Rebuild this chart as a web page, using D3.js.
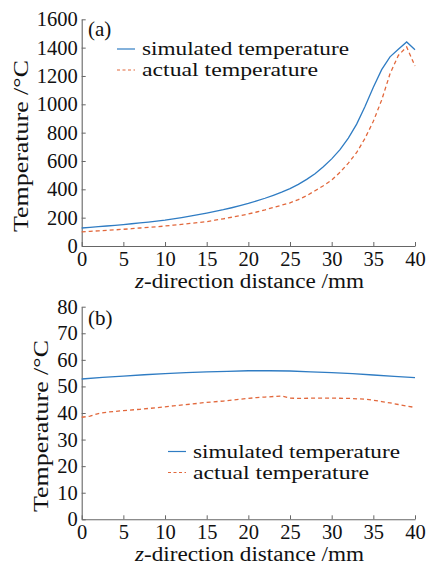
<!DOCTYPE html>
<html>
<head>
<meta charset="utf-8">
<script src="https://cdn.jsdelivr.net/npm/d3@7"></script>
<style>
  html, body { margin: 0; padding: 0; background: #fff; }
  svg { display: block; }
</style>
</head>
<body>
<div id="chart"></div>
<script>
// z-direction positions (mm)
const zA = d3.range(0, 41, 1);
// Panel (a): temperature along z (°C)
const simA = [127, 132, 137, 141, 146, 151, 157, 163, 169, 176, 183, 192, 201, 211, 221, 232,
  244, 256, 270, 285, 300, 318, 337, 358, 380, 405, 435, 470, 510, 560, 615, 680, 762, 860,
  985, 1120, 1245, 1335, 1388, 1440, 1385];
const actA = [100, 103, 107, 110, 114, 118, 122, 127, 131, 136, 141, 147, 153, 159, 165, 172,
  182, 192, 203, 214, 226, 240, 255, 272, 288, 305, 328, 355, 390, 425, 465, 520, 585, 660,
  760, 880, 1030, 1215, 1345, 1405, 1270];

// Panel (b): temperature along z (°C)
const zSimB = [0, 2.5, 5, 7.5, 10, 12.5, 15, 17.5, 20, 22.5, 25, 27.5, 30, 32.5, 35, 37.5, 40];
const simB = [52.8, 53.4, 53.9, 54.4, 54.8, 55.2, 55.5, 55.7, 55.9, 55.9, 55.8, 55.5, 55.2,
  54.8, 54.3, 53.8, 53.3];
const zActB = [0, 1, 2, 3, 5, 7, 9, 11, 13, 15, 17, 19, 21, 22, 23, 24, 25, 26, 28, 30, 32,
  34, 35, 36, 37, 38, 39, 40];
const actB = [38.4, 38.8, 39.8, 40.3, 40.9, 41.4, 42.0, 42.7, 43.3, 44.0, 44.5, 45.2, 45.8,
  46.0, 46.2, 46.4, 45.6, 45.5, 45.6, 45.6, 45.5, 45.2, 44.8, 44.3, 43.8, 43.2, 42.6, 42.1];

const xTicks = [0, 5, 10, 15, 20, 25, 30, 35, 40];
const yTicksA = [0, 200, 400, 600, 800, 1000, 1200, 1400, 1600];
const yTicksB = [0, 10, 20, 30, 40, 50, 60, 70, 80];
const legendLabels = ["simulated temperature", "actual temperature"];
const legendWidths = [207, 176];
const panelTags = ["(a)", "(b)"];
const xTitle = "-direction distance /mm";
const yTitle = "Temperature /°C";

const W = 437, H = 566;
const BLUE = "#2f7cc3", RED = "#e2683c", SPINE = "#666";
const FONT = "'Liberation Serif', 'Times New Roman', serif";
const ROW = 21;

const svg = d3.select("#chart").append("svg").attr("width", W).attr("height", H);

function label(sel, size) {
  return sel.style("font-family", FONT).style("font-size", (size || 20) + "px").attr("fill", "#111");
}

function panel(cfg) {
  const x = d3.scaleLinear().domain([0, 40]).range([81.7, 415]);
  const y = d3.scaleLinear().domain([0, cfg.yMax]).range([cfg.y0, cfg.y1]);
  const g = svg.append("g");

  const ax = g.append("g").attr("transform", `translate(0,${cfg.y0})`)
    .call(d3.axisBottom(x).tickValues(xTicks).tickFormat(d3.format("d"))
      .tickSizeInner(-4).tickSizeOuter(0).tickPadding(5));
  const ay = g.append("g").attr("transform", `translate(${x(0)},0)`)
    .call(d3.axisLeft(y).tickValues(cfg.yTicks).tickFormat(d3.format("d"))
      .tickSizeInner(-4).tickSizeOuter(0).tickPadding(4));
  [ax, ay].forEach(a => {
    a.attr("font-family", null).attr("font-size", null);
    a.selectAll("path.domain").attr("stroke", SPINE).attr("stroke-width", 1.1);
    a.selectAll(".tick line").attr("stroke", SPINE).attr("stroke-width", 1);
    label(a.selectAll(".tick text"), 20.5);
  });

  const line = d3.line().x(d => x(d[0])).y(d => y(d[1]));
  g.append("path").datum(d3.zip(cfg.zs, cfg.sim))
    .attr("d", line).attr("fill", "none").attr("stroke", BLUE).attr("stroke-width", 1.3);
  g.append("path").datum(d3.zip(cfg.za, cfg.act))
    .attr("d", line).attr("fill", "none").attr("stroke", RED).attr("stroke-width", 1.3)
    .attr("stroke-dasharray", "4,3");

  // panel tag
  label(g.append("text").attr("x", 88).attr("y", cfg.tagY), 21).text(cfg.tag);

  // axis titles
  const xt = label(g.append("text").attr("x", 135).attr("y", cfg.xTitleY), 20)
    .attr("textLength", 229).attr("lengthAdjust", "spacingAndGlyphs");
  xt.append("tspan").attr("font-style", "italic").text("z");
  xt.append("tspan").text(xTitle);

  label(g.append("text")
    .attr("transform", `translate(${cfg.yTitleX},${cfg.yTitleY}) rotate(-90)`)
    .attr("text-anchor", "middle"), 21)
    .attr("textLength", 172).attr("lengthAdjust", "spacingAndGlyphs")
    .text(yTitle);

  // legend
  const lg = g.append("g");
  legendLabels.forEach((lab, i) => {
    const ly = cfg.legY + i * ROW;
    lg.append("line").attr("x1", cfg.legX).attr("x2", cfg.legX + 18)
      .attr("y1", ly).attr("y2", ly)
      .attr("stroke", i === 0 ? BLUE : RED).attr("stroke-width", 1.2)
      .attr("stroke-dasharray", i === 0 ? null : "3,2.5");
    label(lg.append("text").attr("x", cfg.legX + 25).attr("y", ly + 6), 18.5)
      .attr("textLength", legendWidths[i]).attr("lengthAdjust", "spacingAndGlyphs")
      .text(lab);
  });
}

panel({
  yMax: 1600, y0: 246, y1: 19.3, yTicks: yTicksA,
  zs: zA, sim: simA, za: zA, act: actA,
  tag: panelTags[0], tagY: 36, xTitleY: 288, yTitleX: 28, yTitleY: 146,
  legX: 117, legY: 49
});
panel({
  yMax: 80, y0: 519.3, y1: 306.7, yTicks: yTicksB,
  zs: zSimB, sim: simB, za: zActB, act: actB,
  tag: panelTags[1], tagY: 325, xTitleY: 561, yTitleX: 48, yTitleY: 426,
  legX: 168, legY: 451.5
});
</script>
</body>
</html>
